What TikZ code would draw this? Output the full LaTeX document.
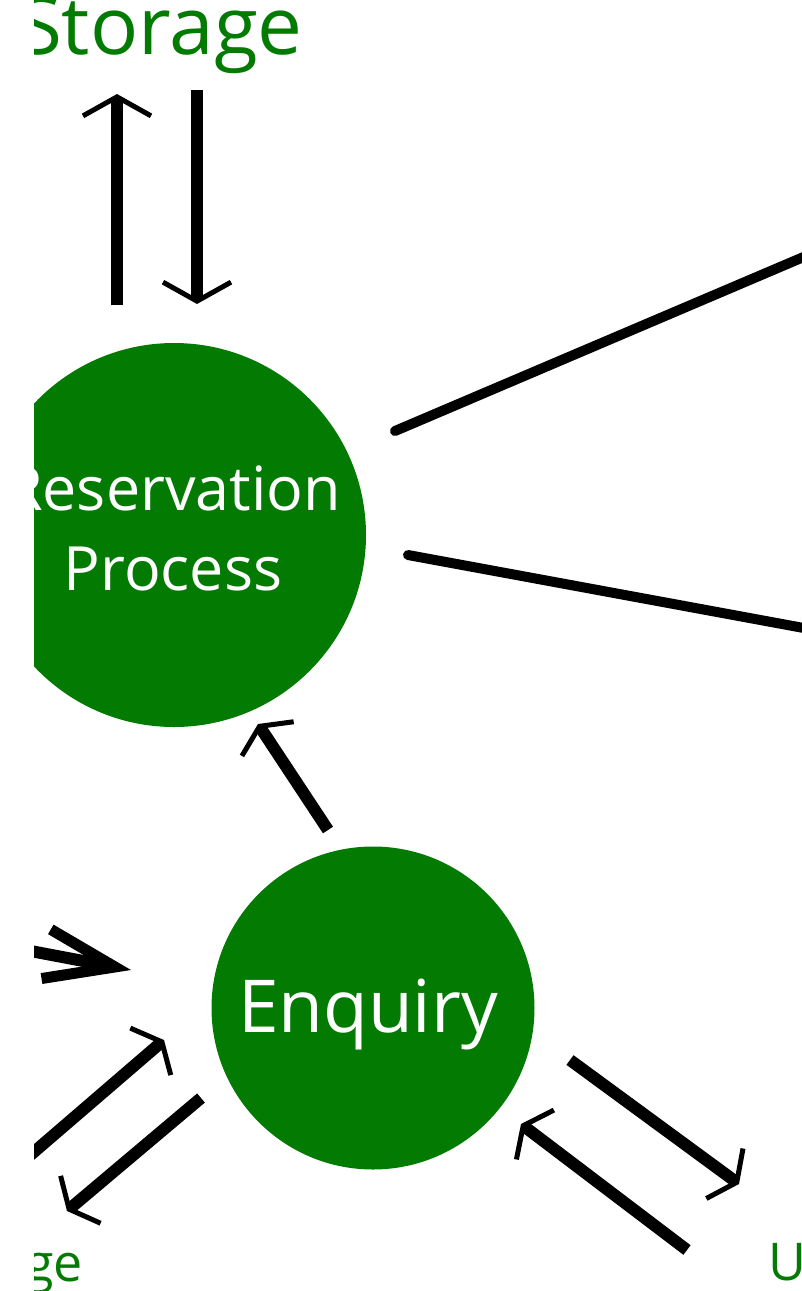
\documentclass[tikz,border=0pt]{standalone}
\usepackage{fontspec}
\setmainfont{Open Sans}
\usetikzlibrary{arrows.meta}
\definecolor{gfg}{RGB}{3,123,3}
\begin{document}
\begin{tikzpicture}[x=1pt,y=-1pt,
  proc/.style={circle,fill=gfg,draw=none,inner sep=0pt,minimum size=#1},
  proclabel/.style={text=white,inner sep=0pt,anchor=base},
  extlabel/.style={text=gfg,inner sep=0pt},
  shaft/.style={line width=12pt,line cap=butt},
  flow/.style={line width=10pt,line cap=round},
  thinhead/.style={-{Straight Barb[length=15pt,width=62pt,line width=5pt]}},
  vhead/.style={-{Straight Barb[length=19pt,width=68pt,line width=5pt]}},
  boldhead/.style={-{Straight Barb[length=70pt,width=50pt,line width=11pt]}}]
\useasboundingbox (0,0) rectangle (802,1291);
\clip (34,0) rectangle (802,1291);
% processes
\node[proc=384pt] (res) at (174,535) {};
\node[proclabel,font=\fontsize{61}{61}\selectfont] (resA) at (173,510) {Reservation};
\node[proclabel,font=\fontsize{61}{61}\selectfont] (resB) at (173,590) {Process};
\node[proc=323pt] (enq) at (373,1008) {};
\node[proclabel,font=\fontsize{73}{73}\selectfont] (enqT) at (368,1032) {Enquiry};
% external labels
\node[extlabel,anchor=base east,font=\fontsize{80}{80}\selectfont] (sto) at (303,54) {Storage};
\node[extlabel,anchor=base east,font=\fontsize{52}{52}\selectfont] (sto2) at (83,1281) {ge};
\node[extlabel,anchor=base west,font=\fontsize{52}{52}\selectfont] (usr) at (768,1280) {U};
% storage arrows
\coordinate (u1) at (117,305); \coordinate (u2) at (117,94);
\coordinate (d1) at (197,90);  \coordinate (d2) at (197,304);
\draw[shaft,vhead] (u1) -- (u2);
\draw[shaft,vhead] (d1) -- (d2);
% lines to the right
\coordinate (r1a) at (395,431); \coordinate (r1b) at (820,250);
\coordinate (r2a) at (408,555); \coordinate (r2b) at (820,631);
\draw[flow] (r1a) -- (r1b);
\draw[flow] (r2a) -- (r2b);
% enquiry -> reservation
\coordinate (e1) at (328,830); \coordinate (e2) at (258,724);
\draw[shaft,thinhead] (e1) -- (e2);
% left incoming arrow
\coordinate (l1) at (20,949); \coordinate (l2) at (131,970);
\draw[shaft,boldhead] (l1) -- (l2);
% lower left pair
\coordinate (a1) at (20,1164); \coordinate (a2) at (164,1040);
\draw[shaft,thinhead] (a1) -- (a2);
\coordinate (b1) at (201,1098); \coordinate (b2) at (67,1211);
\draw[shaft,thinhead] (b1) -- (b2);
% lower right pair
\coordinate (c1) at (570,1060); \coordinate (c2) at (739,1184);
\draw[shaft,thinhead] (c1) -- (c2);
\coordinate (f1) at (687,1250); \coordinate (f2) at (521,1124);
\draw[shaft,thinhead] (f1) -- (f2);
\end{tikzpicture}
\end{document}
